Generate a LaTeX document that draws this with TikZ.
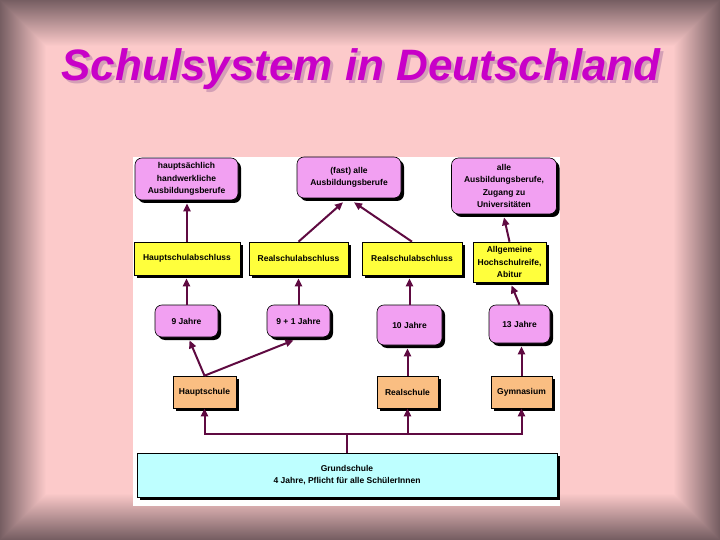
\documentclass[tikz,border=0pt]{standalone}
\usepackage{fontspec}
\setmainfont{Liberation Sans}
\usetikzlibrary{arrows.meta,shadows}
\definecolor{framec}{RGB}{118,94,98}
\definecolor{bgpink}{RGB}{252,202,202}
\definecolor{boxpink}{RGB}{242,160,242}
\definecolor{boxyellow}{RGB}{255,255,60}
\definecolor{boxorange}{RGB}{250,190,130}
\definecolor{boxcyan}{RGB}{190,255,255}
\definecolor{arrowc}{RGB}{95,10,65}
\definecolor{titlec}{RGB}{200,0,200}
\definecolor{titleshc}{RGB}{212,160,182}
\begin{document}
\begin{tikzpicture}[x=1pt,y=-1pt,
  basebox/.style={draw=black, line width=0.6pt,
    font=\fontsize{8.5}{12.5}\selectfont\bfseries, align=center, inner sep=1pt,
    drop shadow={shadow xshift=3pt, shadow yshift=-3pt, fill=black, opacity=1}},
  goalbox/.style={basebox, fill=boxpink, rounded corners=7pt},
  degbox/.style={basebox, fill=boxyellow},
  yearbox/.style={basebox, fill=boxpink, rounded corners=7pt},
  schoolbox/.style={basebox, fill=boxorange},
  basisbox/.style={basebox, fill=boxcyan},
  link/.style={draw=arrowc, line width=2pt},
  arr/.style={link, -{Triangle[length=8pt,width=7pt]}},
  titlefont/.style={font=\fontsize{44}{50}\selectfont\bfseries\itshape, inner sep=0pt, anchor=base}
]
\useasboundingbox (0,0) rectangle (720,540);
% background frame
\fill[framec] (0,0) rectangle (720,540);
\foreach \i in {1,...,46}{
  \pgfmathsetmacro\p{100*\i/46}
  \fill[bgpink!\p!framec] (\i,\i) rectangle (720-\i,540-\i);
}
% title
\node[titlefont, text=titleshc] (titlesh) at (364,84) {Schulsystem in Deutschland};
\node[titlefont, text=titlec] (title) at (361,81) {Schulsystem in Deutschland};
% diagram area
\fill[white] (133,157) rectangle (560,506);
% row 1
\node[goalbox, minimum width=103pt, minimum height=42pt] (A1) at (186.5,179) {hauptsächlich\\handwerkliche\\Ausbildungsberufe};
\node[goalbox, minimum width=104pt, minimum height=41pt] (A2) at (349,177.5) {(fast) alle\\Ausbildungsberufe};
\node[goalbox, minimum width=105pt, minimum height=56pt] (A3) at (504,186) {alle\\Ausbildungsberufe,\\Zugang zu\\Universitäten};
% row 2
\node[degbox, minimum width=106pt, minimum height=33pt] (B1) at (187,258.5) {Hauptschulabschluss};
\node[degbox, minimum width=99pt, minimum height=33pt] (B2) at (298.5,258.5) {Realschulabschluss};
\node[degbox, minimum width=100pt, minimum height=33pt] (B3) at (412,258.5) {Realschulabschluss};
\node[degbox, minimum width=73pt, minimum height=40pt] (B4) at (509.5,262) {Allgemeine\\Hochschulreife,\\Abitur};
% row 3
\node[yearbox, minimum width=63pt, minimum height=32pt] (C1) at (186.5,321) {9 Jahre};
\node[yearbox, minimum width=63pt, minimum height=32pt] (C2) at (298.5,321) {9 + 1 Jahre};
\node[yearbox, minimum width=65pt, minimum height=40pt] (C3) at (409.5,325) {10 Jahre};
\node[yearbox, minimum width=61pt, minimum height=38pt] (C4) at (519.5,324) {13 Jahre};
% row 4
\node[schoolbox, minimum width=63pt, minimum height=32pt] (D1) at (204.5,392) {Hauptschule};
\node[schoolbox, minimum width=61pt, minimum height=32pt] (D2) at (407.5,392) {Realschule};
\node[schoolbox, minimum width=61pt, minimum height=32pt] (D3) at (521.5,392) {Gymnasium};
% row 5
\node[basisbox, minimum width=420pt, minimum height=44pt] (E) at (347,475) {Grundschule\\4 Jahre, Pflicht für alle SchülerInnen};
% connectors
\coordinate (J) at (347,434);
\draw[link] (E.north) -- (J);
\draw[arr] (J) -| (D1.south);
\draw[arr] (J) -| (D2.south);
\draw[arr] (J) -| (D3.south);
\draw[arr] (D1.north) -- ([xshift=3pt,yshift=-3pt]C1.south);
\draw[arr] (D1.north) -- ([xshift=-5pt,yshift=-3pt]C2.south);
\draw[arr] (D2.north) -- ([yshift=-3pt]D2.north |- C3.south);
\draw[arr] (D3.north) -- ([yshift=-3pt]D3.north |- C4.south);
\draw[arr] (C1.north) -- ([yshift=-3pt]C1.north |- B1.south);
\draw[arr] (C2.north) -- ([yshift=-3pt]C2.north |- B2.south);
\draw[arr] (C3.north) -- ([yshift=-3pt]C3.north |- B3.south);
\draw[arr] (C4.north) -- ([xshift=2pt,yshift=-3pt]B4.south);
\draw[arr] (B1.north) -- ([yshift=-3pt]B1.north |- A1.south);
\draw[arr] (B2.north) -- ([xshift=-6pt,yshift=-4pt]A2.south);
\draw[arr] (B3.north) -- ([xshift=5pt,yshift=-4pt]A2.south);
\draw[arr] (B4.north) -- ([yshift=-3pt]A3.south);
\end{tikzpicture}
\end{document}
